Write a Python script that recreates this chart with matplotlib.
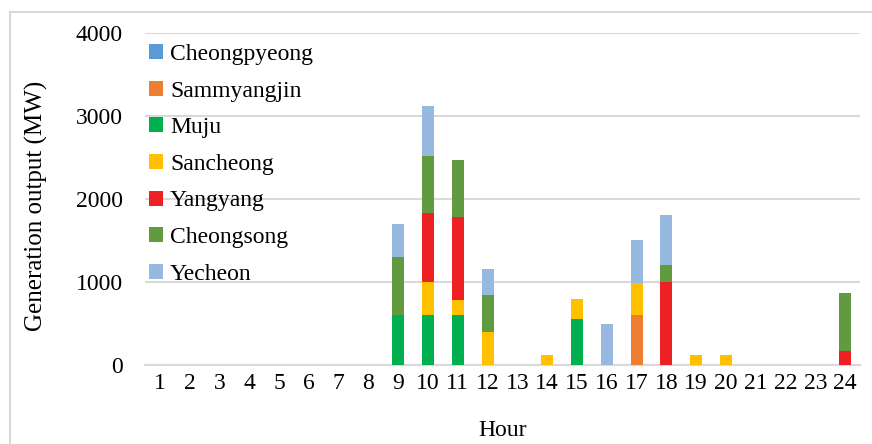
import numpy as np
import matplotlib
matplotlib.use("Agg")
import matplotlib.pyplot as plt
from matplotlib.patches import Rectangle

hours = list(range(1, 25))

# generation output (MW) per plant, hours 1..24
cheongpyeong = [0] * 24
sammyangjin = [0]*16 + [600] + [0]*7
muju = [0]*8 + [600, 600, 600, 0, 0, 0, 550] + [0]*9
sancheong = [0]*8 + [0, 400, 180, 400, 0, 120, 250, 0, 390, 0, 120, 120, 0, 0, 0, 0]
yangyang = [0]*8 + [0, 830, 1000, 0, 0, 0, 0, 0, 0, 1000, 0, 0, 0, 0, 0, 170]
cheongsong = [0]*8 + [700, 690, 690, 440, 0, 0, 0, 0, 0, 210, 0, 0, 0, 0, 0, 700]
yecheon = [0]*8 + [400, 600, 0, 320, 0, 0, 0, 500, 510, 600, 0, 0, 0, 0, 0, 0]

names = ["Cheongpyeong", "Sammyangjin", "Muju", "Sancheong", "Yangyang", "Cheongsong", "Yecheon"]
series = [cheongpyeong, sammyangjin, muju, sancheong, yangyang, cheongsong, yecheon]
colors = ["#5B9BD5", "#ED7D31", "#00B050", "#FFC000", "#ED2024", "#629A3F", "#97B9E0"]

plt.rcParams['font.family'] = ['Liberation Serif', 'DejaVu Serif']

fig = plt.figure(figsize=(8.72, 4.44), dpi=100)
ax = fig.add_axes([145/872, 1-365/444, 715/872, 332/444])

bottom = np.zeros(24)
for name, vals, c in zip(names, series, colors):
    vals = np.array(vals, dtype=float)
    ax.bar(hours, vals, width=0.4, bottom=bottom, color=c, label=name, zorder=3)
    bottom += vals

ax.set_xlim(0.5, 24.5)
ax.set_ylim(0, 4000)
ax.set_yticks([0, 1000, 2000, 3000, 4000])
ax.set_xticks(hours)
ax.grid(axis='y', color='#D9D9D9', linewidth=1.5, zorder=0)
for s in ['top', 'right', 'left']:
    ax.spines[s].set_visible(False)
ax.spines['bottom'].set_color('#D9D9D9')
ax.spines['bottom'].set_linewidth(1.5)
ax.tick_params(axis='both', length=0, labelsize=17)
ax.tick_params(axis='y', pad=16)
ax.tick_params(axis='x', pad=6)
ax.set_ylabel("Generation output (MW)", fontsize=18)
ax.yaxis.set_label_coords(-0.135, 0.48)
ax.set_xlabel("Hour", fontsize=17)
ax.xaxis.set_label_coords(0.5, -0.165)

ax.legend(loc='upper left', bbox_to_anchor=(-0.008, 0.995), frameon=False, fontsize=17,
          handlelength=0.6, handleheight=0.6, handletextpad=0.3, labelspacing=0.66,
          borderaxespad=0)

fig.patches.append(Rectangle((10/872, -0.1), 1.2, 1.1 - 12/444, transform=fig.transFigure,
                             fill=False, edgecolor='#D9D9D9', linewidth=1.5))

fig.savefig("out.png", dpi=100)
